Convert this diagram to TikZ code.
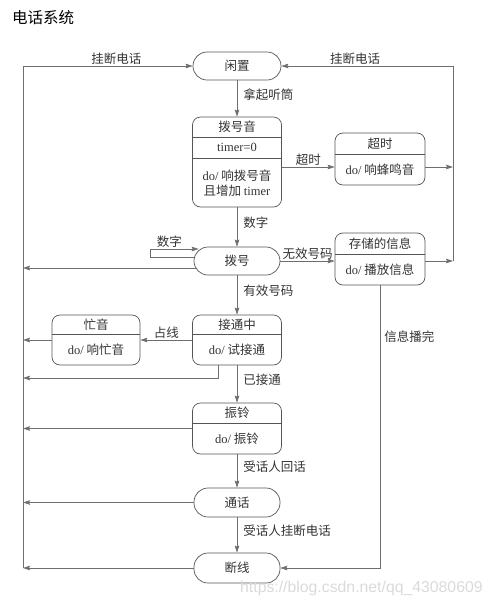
\documentclass[tikz,border=0pt]{standalone}
\usepackage{fontspec}
\setmainfont{Liberation Serif}
\newfontfamily\cjk{Noto Sans CJK SC}
\newfontfamily\wmfont{Liberation Sans}
\usetikzlibrary{arrows.meta}
\definecolor{lgray}{HTML}{6E6E6E}
\definecolor{bgray}{HTML}{555555}
\definecolor{tgray}{HTML}{333333}
\definecolor{wmark}{HTML}{DADADA}
\tikzset{
wire/.style={draw=lgray, line width=0.7pt},
arr/.style={wire, -{Stealth[length=7pt,width=4.5pt,inset=1pt]}},
stbox/.style={draw=bgray, line width=0.7pt, rounded corners=8pt, minimum width=89pt, inner sep=0pt},
stadium/.style={draw=bgray, line width=0.7pt, rounded corners=14pt, minimum width=86pt, minimum height=28pt, inner sep=0pt, text=tgray, font=\fontsize{12.5}{14.5}\selectfont\cjk},
txt/.style={inner sep=0pt, text=tgray, font=\fontsize{12.5}{14.5}\selectfont\cjk},
lbl/.style={inner sep=1pt, text=tgray, font=\fontsize{12.5}{14.5}\selectfont\cjk}
}

\begin{document}
\begin{tikzpicture}[x=1pt, y=-1pt]
\useasboundingbox (0,0) rectangle (492,606);
\node[anchor=west, inner sep=0pt, font=\fontsize{15.5}{18}\selectfont\cjk] (title) at (12,18) {电话系统};

\node[stadium, minimum width=88pt] (idle) at (237,66) {闲置};

\node[stbox, minimum height=90pt] (dialtone) at (237,162) {};
\draw[draw=bgray, line width=0.7pt] (dialtone.west |- 0,137) -- (dialtone.east |- 0,137);
\draw[draw=bgray, line width=0.7pt] (dialtone.west |- 0,158) -- (dialtone.east |- 0,158);
\node[txt] (dialtone-name) at (237,127) {拨号音};
\node[txt] (dialtone-var) at (237,147.5) {\rmfamily timer=0};
\node[txt, align=center] (dialtone-do) at (237,183) {{\rmfamily do/} 响拨号音\\且增加 {\rmfamily timer}};

\node[stbox, minimum width=90pt, minimum height=52pt] (timeout) at (380,159) {};
\draw[draw=bgray, line width=0.7pt] (timeout.west |- 0,154) -- (timeout.east |- 0,154);
\node[txt] (timeout-name) at (380,143.5) {超时};
\node[txt] (timeout-do) at (380,169.5) {{\rmfamily do/} 响蜂鸣音};

\node[stadium] (dialing) at (237,261) {拨号};

\node[stbox, minimum width=90pt, minimum height=52pt] (recorded) at (380,259) {};
\draw[draw=bgray, line width=0.7pt] (recorded.west |- 0,254) -- (recorded.east |- 0,254);
\node[txt] (recorded-name) at (380,243.5) {存储的信息};
\node[txt] (recorded-do) at (380,269.5) {{\rmfamily do/} 播放信息};

\node[stbox, minimum height=50pt] (connecting) at (237,340) {};
\draw[draw=bgray, line width=0.7pt] (connecting.west |- 0,334) -- (connecting.east |- 0,334);
\node[txt] (connecting-name) at (237,324.5) {接通中};
\node[txt] (connecting-do) at (237,349.5) {{\rmfamily do/} 试接通};

\node[stbox, minimum width=88pt, minimum height=50pt] (busy) at (96,340) {};
\draw[draw=bgray, line width=0.7pt] (busy.west |- 0,334) -- (busy.east |- 0,334);
\node[txt] (busy-name) at (96,324.5) {忙音};
\node[txt] (busy-do) at (96,349.5) {{\rmfamily do/} 响忙音};

\node[stbox, minimum height=51pt] (ringing) at (237,428.5) {};
\draw[draw=bgray, line width=0.7pt] (ringing.west |- 0,423) -- (ringing.east |- 0,423);
\node[txt] (ringing-name) at (237,413) {振铃};
\node[txt] (ringing-do) at (237,438.5) {{\rmfamily do/} 振铃};

\node[stadium, minimum height=29pt] (talking) at (237,502.5) {通话};
\node[stadium, minimum height=30pt] (hangup) at (237,568) {断线};

\coordinate (lbus-top) at (23,66);
\coordinate (lbus-bot) at (23,568);
\coordinate (rbus-top) at (453,66);
\coordinate (rbus-bot) at (453,261);
\coordinate (loop) at (150,249);
\coordinate (cbend) at (218,378);
\coordinate (to-timeout) at ([yshift=-5pt]dialtone.east);
\coordinate (from-timeout) at ([yshift=-8pt]timeout.east);
\coordinate (loop-out) at ([yshift=4pt]dialing.west);
\coordinate (loop-in) at ([xshift=5pt,yshift=12pt]dialing.west);
\coordinate (dialing-out) at ([xshift=2pt,yshift=-7pt]dialing.west);

\draw[wire] (lbus-bot) -- (lbus-top);
\draw[arr] (lbus-top) -- node[lbl, above, pos=0.55] {挂断电话} (idle.west);
\draw[wire] (rbus-bot) -- (rbus-top);
\draw[arr] (rbus-top) -- node[lbl, above, pos=0.57] {挂断电话} (idle.east);

\draw[arr] (idle) -- node[lbl, right=5pt, yshift=4pt] {拿起听筒} (dialtone);
\draw[arr] (to-timeout) -- node[lbl, above] {超时} (to-timeout -| timeout.west);
\draw[arr] (from-timeout) -- (from-timeout -| rbus-top);
\draw[arr] (dialtone) -- node[lbl, right=5pt, yshift=4pt] {数字} (dialing);

\draw[arr] (loop-out) -| (loop) -- node[lbl, above, pos=0.4] {数字} (loop-in);
\draw[arr] (dialing-out) -- (dialing-out -| lbus-top);
\draw[arr] (dialing.east) -- node[lbl, above] {无效号码} (dialing.east -| recorded.west);
\draw[arr] (dialing.east -| recorded.east) -- (dialing.east -| rbus-top);
\draw[arr] (recorded.south) |- node[lbl, right=3pt, pos=0.09] {信息播完} (hangup.east);

\draw[arr] (dialing) -- node[lbl, right=5pt, yshift=4pt] {有效号码} (connecting);
\draw[arr] (connecting.west) -- node[lbl, above] {占线} (busy.east);
\draw[arr] (busy.west) -- (busy.west -| lbus-top);
\draw[arr] (connecting.south -| cbend) -- (cbend) -- (cbend -| lbus-top);

\draw[arr] (connecting) -- node[lbl, right=5pt, yshift=4pt] {已接通} (ringing);
\draw[arr] (ringing.west) -- (ringing.west -| lbus-top);
\draw[arr] (ringing) -- node[lbl, right=5pt, yshift=4pt] {受话人回话} (talking);
\draw[arr] (talking.west) -- (talking.west -| lbus-top);
\draw[arr] (talking) -- node[lbl, right=5pt, yshift=4pt] {受话人挂断电话} (hangup);
\draw[arr] (hangup.west) -- (hangup.west -| lbus-top);

\node[anchor=west, inner sep=0pt, text=wmark, font=\fontsize{15.8}{18}\selectfont\wmfont] (watermark) at (240,588) {https://blog.csdn.net/qq\_43080609};
\end{tikzpicture}
\end{document}
